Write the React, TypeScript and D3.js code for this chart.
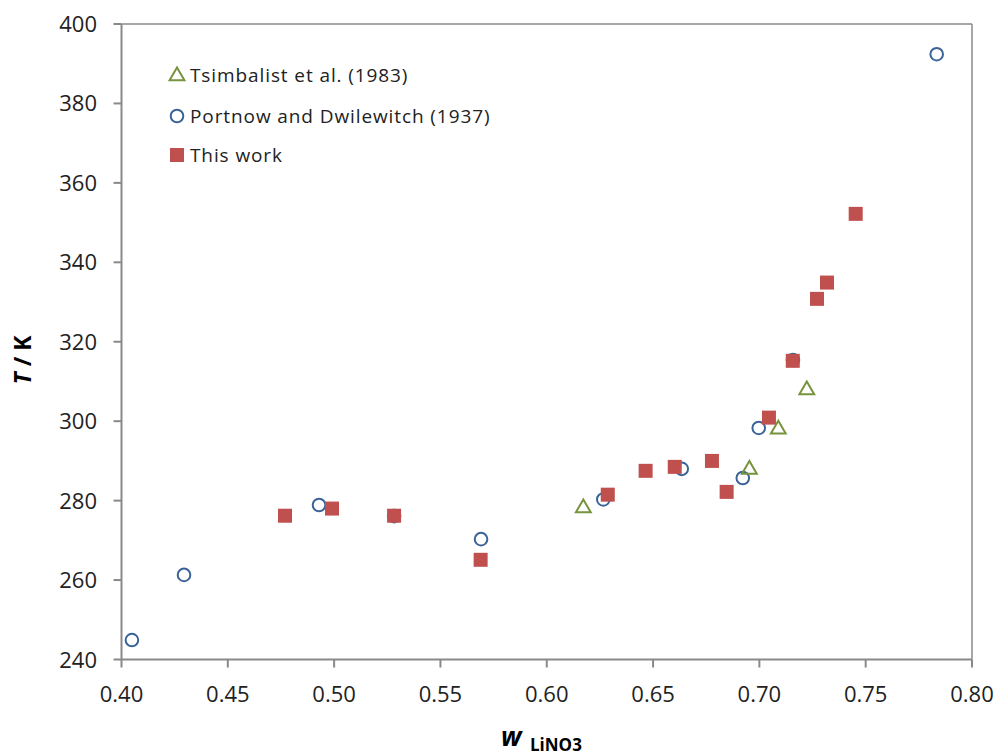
import React from "react";
import * as d3 from "d3";

const tsimbalistW = [0.6172, 0.6953, 0.7089, 0.7223];
const tsimbalistT = [278.4, 288.1, 298.2, 308.1];

const portnowW = [0.4049, 0.4294, 0.4929, 0.5282, 0.5691, 0.6266, 0.6635, 0.6922, 0.6997, 0.7158, 0.7834];
const portnowT = [244.9, 261.3, 278.9, 276.1, 270.3, 280.3, 288.0, 285.7, 298.3, 315.4, 392.4];

const thisWorkW = [0.4769, 0.4990, 0.5282, 0.5689, 0.6287, 0.6465, 0.6602, 0.6777, 0.6846, 0.7045, 0.7157, 0.7271, 0.7318, 0.7453];
const thisWorkT = [276.2, 278.0, 276.2, 265.1, 281.5, 287.5, 288.5, 290.0, 282.2, 300.9, 315.2, 330.8, 334.9, 352.2];

const xTicks = [0.40, 0.45, 0.50, 0.55, 0.60, 0.65, 0.70, 0.75, 0.80];
const yTicks = [240, 260, 280, 300, 320, 340, 360, 380, 400];

const legendLabels = ["Tsimbalist et al. (1983)", "Portnow and Dwilewitch (1937)", "This work"];

const W = 997;
const H = 756;
const left = 121.5;
const right = 972;
const top = 24;
const bottom = 659.5;

const axisColor = "#898989";
const green = "#77933C";
const blue = "#3A6399";
const red = "#C0504D";
const font = "'Open Sans', 'Noto Sans', sans-serif";

export default function App() {
  const x = d3.scaleLinear().domain([0.4, 0.8]).range([left, right]);
  const y = d3.scaleLinear().domain([240, 400]).range([bottom, top]);
  const tri = d3.symbol().type(d3.symbolTriangle).size(95)();

  const legendY = [75, 116, 155];

  return (
    <svg width={W} height={H} style={{ position: "absolute", left: 0, top: 0, background: "#fff" }} fontFamily={font}>
      <rect x={0} y={0} width={W} height={H} fill="#fff" />
      {/* plot border top/right */}
      <line x1={left} x2={right} y1={top} y2={top} stroke={axisColor} strokeWidth={1.5} />
      <line x1={right} x2={right} y1={top} y2={bottom} stroke={axisColor} strokeWidth={1.5} />
      {/* axes */}
      <line x1={left} x2={right} y1={bottom} y2={bottom} stroke={axisColor} strokeWidth={2} />
      <line x1={left} x2={left} y1={top} y2={bottom} stroke={axisColor} strokeWidth={2} />
      {xTicks.map((t) => (
        <g key={"x" + t}>
          <line x1={x(t)} x2={x(t)} y1={bottom} y2={bottom + 8} stroke={axisColor} strokeWidth={2} />
          <text x={x(t)} y={702} textAnchor="middle" fontSize={22} fill="#222">
            {t.toFixed(2)}
          </text>
        </g>
      ))}
      {yTicks.map((t) => (
        <g key={"y" + t}>
          <line x1={left - 8} x2={left} y1={y(t)} y2={y(t)} stroke={axisColor} strokeWidth={2} />
          <text x={97} y={y(t) + 8} textAnchor="end" fontSize={22} fill="#222">
            {t}
          </text>
        </g>
      ))}
      {/* axis titles */}
      <text transform={`translate(31, 360) rotate(-90)`} textAnchor="middle" fontSize={23} fontWeight="bold" fill="#000">
        <tspan fontStyle="italic">T</tspan> / K
      </text>
      <text x={501} y={746} fontSize={26} fontWeight="bold" fontStyle="italic" fill="#000">
        w
      </text>
      <text x={530} y={751} fontSize={17} fontWeight="bold" fill="#000">
        LiNO3
      </text>

      {/* data */}
      {portnowW.map((w, i) => (
        <circle key={"p" + i} cx={x(w)} cy={y(portnowT[i])} r={6.3} fill="none" stroke={blue} strokeWidth={2} />
      ))}
      {tsimbalistW.map((w, i) => (
        <path key={"t" + i} d={tri!} transform={`translate(${x(w)},${y(tsimbalistT[i]) + 1})`} fill="none" stroke={green} strokeWidth={2} />
      ))}
      {thisWorkW.map((w, i) => (
        <rect key={"s" + i} x={x(w) - 7} y={y(thisWorkT[i]) - 7} width={14} height={14} fill={red} />
      ))}

      {/* legend */}
      <path d={tri!} transform={`translate(177,${legendY[0] + 1})`} fill="none" stroke={green} strokeWidth={2} />
      <circle cx={177} cy={legendY[1]} r={6.3} fill="none" stroke={blue} strokeWidth={2} />
      <rect x={170} y={legendY[2] - 7} width={14} height={14} fill={red} />
      {legendLabels.map((l, i) => (
        <text key={l} x={190} y={legendY[i] + 7} fontSize={19} letterSpacing={0.9} fill="#222">
          {l}
        </text>
      ))}
    </svg>
  );
}
